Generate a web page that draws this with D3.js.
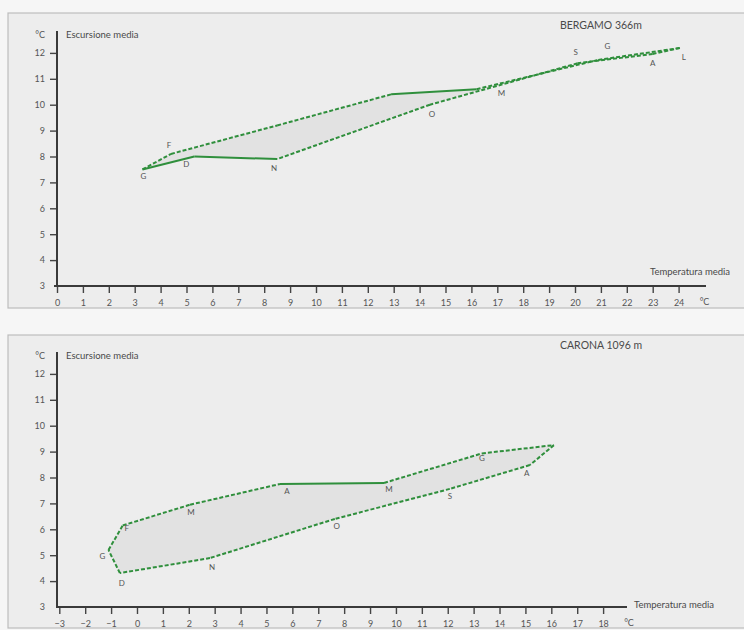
<!DOCTYPE html>
<html>
<head>
<meta charset="utf-8">
<script src="https://cdn.jsdelivr.net/npm/d3@7"></script>
<style>
  html, body { margin: 0; padding: 0; background: #f6f6f6; }
  svg { display: block; font-family: "Lato", "Open Sans", sans-serif; }
</style>
</head>
<body>
<svg id="chart" width="744" height="630"></svg>
<script>
// Month initials (Italian): Gennaio ... Dicembre
const months = ["G", "F", "M", "A", "M", "G", "L", "A", "S", "O", "N", "D"];

// Bergamo 366 m: mean monthly temperature (°C) and mean daily excursion (°C)
const bergamoTemp = [3.3, 4.4, 8.5, 12.9, 16.2, 20.9, 24.05, 23.0, 20.1, 14.4, 8.5, 5.3];
const bergamoExc  = [7.5, 8.1, 9.2, 10.4, 10.6, 11.73, 12.19, 11.96, 11.6, 10.0, 7.9, 8.0];

// Carona 1096 m
const caronaTemp = [-1.1, -0.55, 2.05, 5.52, 9.54, 13.32, 16.1, 15.17, 12.08, 7.64, 2.82, -0.66];
const caronaExc  = [5.2, 6.15, 6.95, 7.75, 7.79, 8.93, 9.25, 8.48, 7.56, 6.4, 4.89, 4.31];

// Axis ticks
const bergamoXTicks = d3.range(0, 25);
const caronaXTicks = d3.range(-3, 19);
const yTicks = d3.range(3, 13);

const svg = d3.select("#chart");
const green = "#2f8f3c";

function panel(cfg) {
  const g = svg.append("g");

  // panel frame
  g.append("rect")
    .attr("x", cfg.frame[0]).attr("y", cfg.frame[1])
    .attr("width", cfg.frame[2]).attr("height", cfg.frame[3])
    .attr("fill", "#ededed").attr("stroke", "#bdbdbd").attr("stroke-width", 1.2);

  const x = d3.scaleLinear().domain(cfg.xDomain).range(cfg.xRange);
  const y = d3.scaleLinear().domain([3, 13]).range(cfg.yRange);

  // climograph polygon
  const pts = cfg.temp.map((t, i) => [x(t), y(cfg.exc[i])]);
  g.append("path")
    .attr("d", d3.line()(pts) + "Z")
    .attr("fill", "#dedede").attr("fill-opacity", 0.8).attr("stroke", "none");

  pts.forEach((p, i) => {
    const q = pts[(i + 1) % pts.length];
    const solid = cfg.solid.includes(i);
    g.append("line")
      .attr("x1", p[0]).attr("y1", p[1]).attr("x2", q[0]).attr("y2", q[1])
      .attr("stroke", green).attr("stroke-width", 2)
      .attr("stroke-dasharray", solid ? null : "4 2");
  });

  // month labels
  pts.forEach((p, i) => {
    if (cfg.hidden.includes(i)) return;
    const o = cfg.labelOffsets[i];
    g.append("text")
      .attr("x", p[0] + o[0]).attr("y", p[1] + o[1])
      .attr("text-anchor", "middle")
      .attr("font-size", 8).attr("fill", "#555")
      .text(months[i]);
  });

  // x axis
  const xAxis = d3.axisBottom(x).tickValues(cfg.xTicks).tickSize(7)
    .tickFormat(d3.format("d"));
  const gx = g.append("g").attr("transform", `translate(0,${cfg.yRange[0]})`).call(xAxis);
  gx.select(".domain").remove();
  gx.selectAll(".tick line").attr("stroke", "#444").attr("stroke-width", 1.4);
  gx.selectAll(".tick text").attr("font-size", 9).attr("fill", "#555").attr("dy", "1.1em")
    .attr("font-family", "Lato, sans-serif");
  g.append("line")
    .attr("x1", cfg.xRange[0] - 3).attr("x2", cfg.xAxisEnd)
    .attr("y1", cfg.yRange[0]).attr("y2", cfg.yRange[0])
    .attr("stroke", "#3a3a3a").attr("stroke-width", 2);
  g.append("text")
    .attr("x", x(cfg.xDomain[1])).attr("y", cfg.yRange[0] + 19)
    .attr("text-anchor", "middle").attr("font-size", 9).attr("fill", "#555").text("°C");

  // y axis
  const yAxis = d3.axisLeft(y).tickValues(yTicks).tickSize(7).tickFormat(d3.format("d"));
  const gy = g.append("g").attr("transform", `translate(${cfg.yAxisX},0)`).call(yAxis);
  gy.select(".domain").remove();
  gy.selectAll(".tick line").attr("stroke", "#444").attr("stroke-width", 1.4)
    .filter(d => d === 3).remove();
  gy.selectAll(".tick text").attr("font-size", 9).attr("fill", "#555").attr("x", -12)
    .attr("font-family", "Lato, sans-serif");
  g.append("line")
    .attr("x1", cfg.yAxisX).attr("x2", cfg.yAxisX)
    .attr("y1", y(12.85)).attr("y2", cfg.yRange[0] + 1)
    .attr("stroke", "#3a3a3a").attr("stroke-width", 2);
  g.append("text")
    .attr("x", cfg.yAxisX - 12).attr("y", y(12.7) + 3)
    .attr("text-anchor", "end").attr("font-size", 9).attr("fill", "#555").text("°C");

  // axis titles and station name
  g.append("text").attr("x", cfg.yAxisX + 9).attr("y", y(12.7) + 3)
    .attr("font-size", 9.5).attr("fill", "#4a4a4a").text("Escursione media");
  g.append("text").attr("x", cfg.xTitle[0]).attr("y", cfg.xTitle[1])
    .attr("font-size", 9.5).attr("fill", "#4a4a4a").text("Temperatura media");
  g.append("text").attr("x", 560).attr("y", cfg.titleY)
    .attr("font-size", 10.5).attr("fill", "#4a4a4a").text(cfg.title);
}

panel({
  frame: [8, 13, 745, 295],
  title: "BERGAMO 366m", titleY: 29,
  temp: bergamoTemp, exc: bergamoExc,
  xDomain: [0, 25], xRange: [57, 704.5], yRange: [286, 27],
  xTicks: bergamoXTicks, yAxisX: 57, xAxisEnd: 706,
  xTitle: [650, 275],
  solid: [3, 10, 11],
  hidden: [2, 3],
  labelOffsets: [[1, 10], [-2, -6], [0, 0], [0, 0], [25, 7], [9, -11], [4, 12],
                 [0, 12], [-2, -8], [2, 12], [-3, 12], [-8, 10]]
});

panel({
  frame: [8, 335, 745, 293],
  title: "CARONA 1096 m", titleY: 349,
  temp: caronaTemp, exc: caronaExc,
  xDomain: [-3, 19], xRange: [59.3, 629], yRange: [607, 348],
  xTicks: caronaXTicks, yAxisX: 57, xAxisEnd: 627,
  xTitle: [634, 608],
  solid: [3],
  hidden: [6],
  labelOffsets: [[-6, 9], [4, 6], [1, 10], [7, 10], [5, 9], [0, 8], [0, 0],
                 [-3, 11], [0, 10], [2, 10], [2, 12], [2, 13]]
});
</script>
</body>
</html>
